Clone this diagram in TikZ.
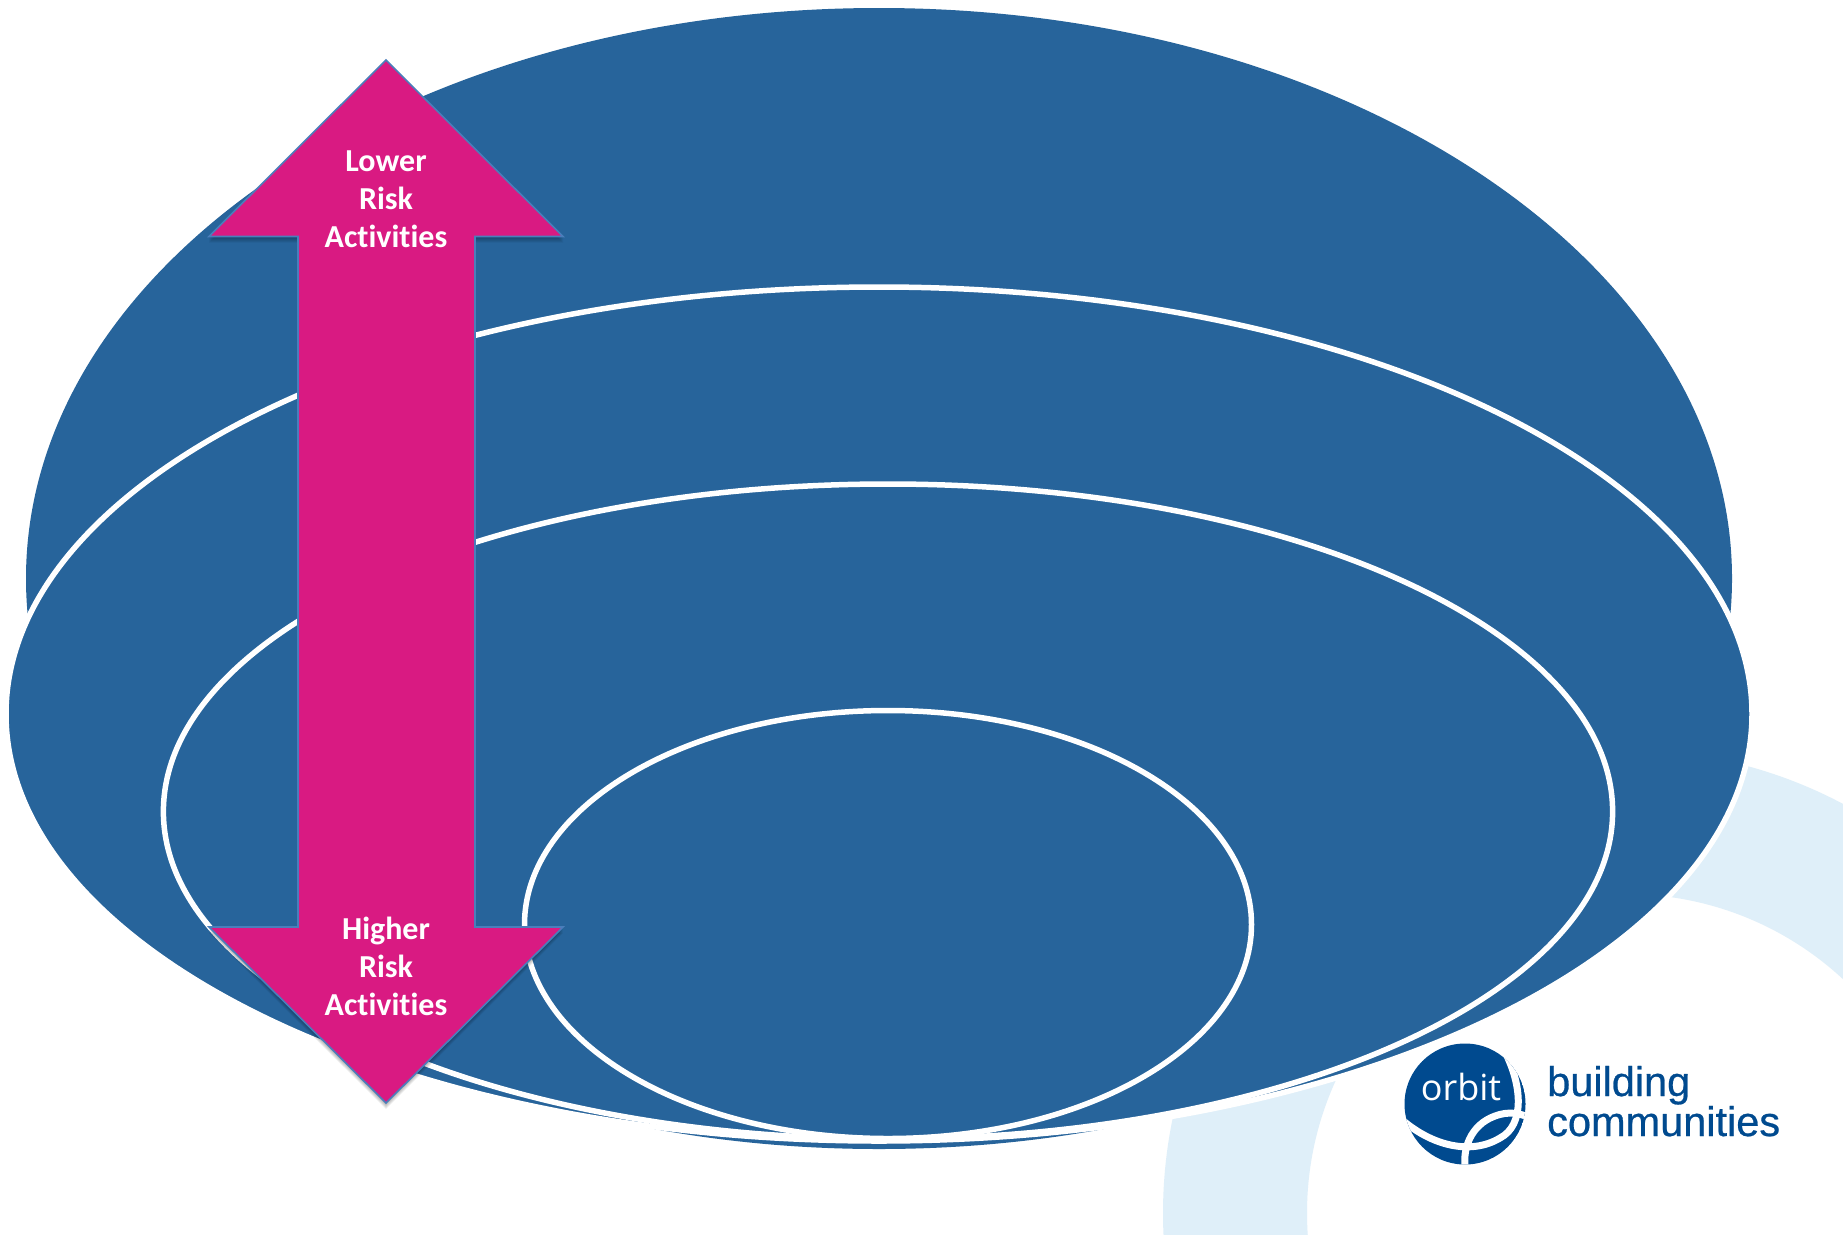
\documentclass[tikz,border=0pt]{standalone}
\usepackage{fontspec}
\setmainfont[Ligatures=NoCommon]{Carlito}
\newfontfamily\logofont[FakeBold=0.6]{Liberation Sans}
\newfontfamily\orbitfont{Open Sans}
\definecolor{layerblue}{HTML}{27649B}
\definecolor{riskpink}{HTML}{D91A82}
\definecolor{arrowedge}{HTML}{4A7EBB}
\definecolor{ringpale}{HTML}{DFEFF9}
\definecolor{logoblue}{HTML}{004A8F}
\newcommand{\riskarrow}{(386,60) -- (563,236.5) -- (475,236.5) -- (475,927) -- (563,927) -- (386,1103) -- (209,927) -- (298,927) -- (298,236.5) -- (209,236.5) -- cycle}
\tikzset{
  layer/.style={fill=layerblue,draw=white,line width=5.5pt},
  risktext/.style={text=white,align=center,inner sep=0pt,font=\fontsize{32}{38}\selectfont\bfseries},
  logoband/.style={draw=white,line cap=butt},
}
\begin{document}
\begin{tikzpicture}[x=1pt,y=-1pt]
\useasboundingbox (0,0) rectangle (1843,1234);
\fill[white] (0,0) rectangle (1843,1234);
\begin{scope}
\clip (0,0) rectangle (1843,1234);
% pale ring behind
\fill[ringpale,even odd rule] (1626,1213) circle[radius=463pt] (1626,1213) circle[radius=319pt];
% nested layers
\fill[layerblue] (879,578.5) ellipse[x radius=853pt,y radius=570.5pt];
\path[layer] (879,714) ellipse[x radius=873pt,y radius=427pt];
\path[layer] (888,811.5) ellipse[x radius=724.6pt,y radius=327.5pt];
\path[layer] (888,924.5) ellipse[x radius=363.5pt,y radius=214pt];
% arrow shadow
\foreach \d in {1,2,3,4,5,6}{
  \fill[black,opacity=0.055,shift={(0,\d)}] \riskarrow;
}
\path[fill=riskpink,draw=arrowedge,line width=1.6pt,line join=miter] \riskarrow;
\end{scope}
\node[risktext] (lower) at (386,199) {Lower\\Risk\\Activities};
\node[risktext] (higher) at (386,966.5) {Higher\\Risk\\Activities};
% logo
\begin{scope}
\clip (1465,1104) circle[radius=60.5pt];
\fill[logoblue] (1465,1104) circle[radius=61pt];
\draw[logoband,line width=7pt] (1400,1118) .. controls (1430,1145) and (1470,1156) .. (1500,1138) .. controls (1525,1125) and (1522,1085) .. (1505,1052);
\fill[white] (1505,1044) -- (1530,1044) -- (1530,1075) -- (1521,1078) .. controls (1518,1065) and (1515,1055) .. (1505,1044) -- cycle;
\draw[logoband,line width=7pt] (1465.5,1170) .. controls (1462,1150) and (1470,1125) .. (1495,1116) .. controls (1508,1111) and (1520,1113) .. (1530,1118);
\end{scope}
\node[inner sep=0pt,anchor=base,text=white,font=\orbitfont\fontsize{36}{36}\selectfont] (orbit) at (1461,1100) {orbit};
\node[inner sep=0pt,anchor=base west,text=logoblue,font=\logofont\fontsize{41.5}{41.5}\selectfont] (building) at (1547,1096) {building};
\node[inner sep=0pt,anchor=base west,text=logoblue,font=\logofont\fontsize{41.5}{41.5}\selectfont] (communities) at (1547,1136) {communities};
\end{tikzpicture}
\end{document}
